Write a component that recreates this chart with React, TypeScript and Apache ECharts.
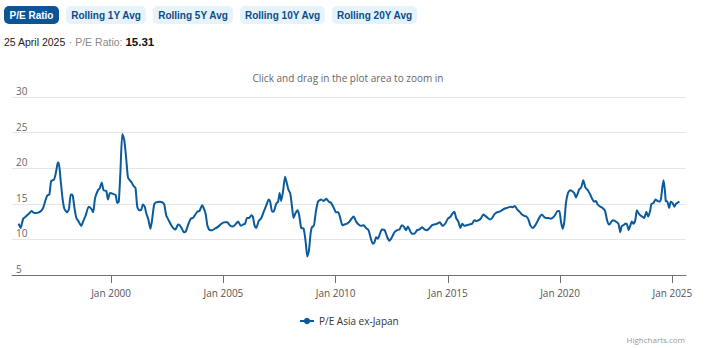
import React, { useEffect, useRef } from "react";
import * as echarts from "echarts";

const seriesName = "P/E Asia ex-Japan";
const chartHint = "Click and drag in the plot area to zoom in";
const buttonLabels = ["P/E Ratio", "Rolling 1Y Avg", "Rolling 5Y Avg", "Rolling 10Y Avg", "Rolling 20Y Avg"];
const latestDate = "25 April 2025";
const latestLabel = "P/E Ratio:";
const latestValue = "15.31";
const xTickYears = [2000, 2005, 2010, 2015, 2020, 2025];
const yMin = 5;
const yMax = 30;
const yStep = 5;

const dates = [
  "1995-11-18", "1995-12-20", "1996-02-01", "1996-03-15", "1996-05-15", "1996-06-15", "1996-08-01", "1996-10-15", "1996-12-15",
  "1997-02-01", "1997-03-01", "1997-04-01", "1997-05-01", "1997-06-15", "1997-07-10", "1997-08-15", "1997-09-01", "1997-10-01",
  "1997-11-01", "1997-12-01", "1998-01-15", "1998-02-15", "1998-03-15", "1998-04-15", "1998-05-15", "1998-06-15", "1998-07-15",
  "1998-09-01", "1998-10-01", "1998-11-15", "1999-01-01", "1999-02-15", "1999-03-15", "1999-04-15", "1999-06-01", "1999-07-01",
  "1999-08-01", "1999-09-01", "1999-10-15", "1999-11-10", "1999-12-15", "2000-02-01", "2000-03-15", "2000-04-10", "2000-05-05",
  "2000-06-01", "2000-07-01", "2000-08-01", "2000-09-01", "2000-10-01", "2000-11-01", "2000-12-01", "2001-01-01", "2001-02-01",
  "2001-03-01", "2001-04-01", "2001-05-01", "2001-06-01", "2001-07-01", "2001-07-25", "2001-09-01", "2001-10-01", "2001-10-25",
  "2001-12-01", "2002-01-01", "2002-03-01", "2002-04-15", "2002-05-15", "2002-06-15", "2002-07-25", "2002-09-05", "2002-10-20",
  "2002-11-15", "2002-12-25", "2003-01-20", "2003-02-20", "2003-04-01", "2003-04-30", "2003-06-05", "2003-07-20", "2003-08-25",
  "2003-09-25", "2003-11-05", "2003-12-10", "2004-01-20", "2004-02-20", "2004-03-20", "2004-04-15", "2004-05-25", "2004-07-01",
  "2004-08-15", "2004-10-10", "2004-11-30", "2005-01-20", "2005-03-05", "2005-04-15", "2005-05-25", "2005-07-05", "2005-08-30",
  "2005-10-10", "2005-11-20", "2005-12-20", "2006-01-20", "2006-02-25", "2006-04-01", "2006-04-25", "2006-05-25", "2006-06-20",
  "2006-07-30", "2006-09-10", "2006-10-20", "2006-12-01", "2007-01-08", "2007-02-01", "2007-03-05", "2007-04-05", "2007-05-10",
  "2007-06-10", "2007-07-05", "2007-07-30", "2007-08-30", "2007-10-01", "2007-10-27", "2007-11-28", "2007-12-24", "2008-01-22",
  "2008-02-17", "2008-03-20", "2008-04-22", "2008-05-18", "2008-06-20", "2008-07-30", "2008-09-01", "2008-09-27", "2008-10-23",
  "2008-11-22", "2008-12-17", "2009-01-08", "2009-02-10", "2009-03-20", "2009-05-10", "2009-06-20", "2009-08-03", "2009-09-12",
  "2009-10-22", "2009-11-28", "2010-01-10", "2010-02-13", "2010-03-17", "2010-04-20", "2010-05-26", "2010-07-05", "2010-08-15",
  "2010-09-24", "2010-10-20", "2010-12-01", "2011-01-10", "2011-02-20", "2011-04-05", "2011-05-10", "2011-06-20", "2011-07-22",
  "2011-08-28", "2011-09-25", "2011-10-22", "2011-11-17", "2011-12-16", "2012-01-22", "2012-03-08", "2012-04-20", "2012-05-26",
  "2012-07-05", "2012-08-15", "2012-09-27", "2012-11-06", "2012-12-13", "2013-01-15", "2013-02-20", "2013-03-22", "2013-04-16",
  "2013-05-26", "2013-07-05", "2013-08-18", "2013-09-27", "2013-11-10", "2013-12-16", "2014-01-30", "2014-03-08", "2014-04-20",
  "2014-05-26", "2014-07-08", "2014-08-22", "2014-10-08", "2014-11-17", "2015-01-01", "2015-02-14", "2015-03-22", "2015-04-16",
  "2015-05-16", "2015-06-20", "2015-07-24", "2015-08-22", "2015-09-27", "2015-11-10", "2015-12-16", "2016-01-30", "2016-03-08",
  "2016-04-05", "2016-05-18", "2016-06-25", "2016-07-30", "2016-09-01", "2016-10-12", "2016-11-17", "2016-12-20", "2017-01-26",
  "2017-03-08", "2017-04-20", "2017-05-30", "2017-07-08", "2017-08-15", "2017-09-16", "2017-10-22", "2017-11-22", "2017-12-24",
  "2018-01-26", "2018-03-10", "2018-04-20", "2018-05-30", "2018-07-05", "2018-08-08", "2018-09-02", "2018-10-12", "2018-11-17",
  "2019-01-01", "2019-02-06", "2019-03-10", "2019-04-12", "2019-05-16", "2019-06-28", "2019-08-03", "2019-09-12", "2019-10-16",
  "2019-11-22", "2019-12-20", "2020-01-15", "2020-02-10", "2020-03-10", "2020-04-05", "2020-05-08", "2020-06-10", "2020-07-12",
  "2020-08-18", "2020-09-16", "2020-10-12", "2020-11-06", "2020-12-10", "2021-01-12", "2021-02-15", "2021-03-28", "2021-05-05",
  "2021-06-12", "2021-07-08", "2021-08-08", "2021-09-02", "2021-10-16", "2021-11-22", "2022-01-01", "2022-02-03", "2022-02-28",
  "2022-03-25", "2022-05-05", "2022-06-10", "2022-07-12", "2022-08-08", "2022-09-06", "2022-10-01", "2022-10-30", "2022-11-25",
  "2022-12-20", "2023-01-20", "2023-02-14", "2023-03-14", "2023-04-08", "2023-05-08", "2023-06-03", "2023-06-28", "2023-07-28",
  "2023-08-30", "2023-10-01", "2023-11-03", "2023-12-03", "2024-01-04", "2024-01-27", "2024-02-28", "2024-04-01", "2024-05-03",
  "2024-06-05", "2024-06-27", "2024-07-20", "2024-08-10", "2024-09-02", "2024-09-16", "2024-10-12", "2024-11-10", "2024-12-05",
  "2025-01-05", "2025-02-01", "2025-03-01", "2025-04-25",
];

const peValues = [
  12.2, 11.6, 12.9, 13.2, 13.7, 14.0, 13.7, 13.8, 14.3,
  15.6, 16.2, 16.3, 18.2, 18.4, 19.1, 20.7, 20.8, 18.4,
  15.8, 14.3, 13.8, 14.3, 16.3, 16.2, 14.4, 13.0, 12.6,
  11.9, 12.5, 13.4, 14.6, 14.3, 13.8, 15.8, 16.9, 17.2,
  18.0, 16.9, 16.8, 15.6, 16.5, 16.4, 16.2, 15.1, 15.3,
  19.6, 24.8, 24.0, 21.5, 18.7, 18.3, 18.0, 17.5, 17.2,
  14.6, 14.1, 14.1, 14.9, 14.6, 13.7, 12.7, 11.5, 12.5,
  14.9, 15.2, 15.3, 15.2, 14.9, 13.4, 12.7, 12.0, 11.5,
  11.4, 12.1, 12.0, 11.6, 11.0, 11.1, 12.0, 12.9, 13.0,
  13.4, 13.9, 14.0, 14.8, 14.3, 13.5, 12.0, 11.3, 11.3,
  11.5, 11.8, 12.2, 12.4, 12.4, 12.0, 11.8, 12.0, 12.5,
  11.9, 12.1, 12.2, 13.0, 13.0, 13.4, 13.2, 11.9, 11.6,
  12.6, 13.0, 13.9, 14.8, 15.6, 15.3, 13.9, 14.0, 15.0,
  15.3, 16.5, 15.4, 16.8, 18.8, 18.0, 16.9, 16.5, 14.6,
  13.0, 13.7, 14.1, 13.4, 11.6, 11.5, 9.6, 7.6, 8.4,
  11.0, 11.8, 11.8, 13.7, 15.3, 15.6, 15.4, 15.7, 15.3,
  15.1, 14.5, 13.8, 13.8, 13.0, 12.0, 12.1, 12.2, 12.5,
  13.0, 13.2, 12.5, 12.1, 11.9, 12.0, 11.6, 11.3, 10.3,
  9.4, 9.6, 10.3, 10.1, 10.6, 11.4, 11.3, 10.3, 9.8,
  10.3, 11.0, 11.3, 11.4, 12.0, 11.8, 11.3, 11.8, 11.4,
  10.8, 10.8, 11.3, 11.4, 11.7, 11.4, 11.3, 11.6, 12.0,
  12.1, 12.2, 12.4, 11.9, 12.2, 12.9, 13.2, 13.7, 13.9,
  13.0, 12.5, 11.6, 12.2, 11.9, 12.0, 12.1, 12.2, 12.7,
  12.6, 12.7, 13.0, 13.5, 13.3, 13.0, 12.8, 13.0, 13.5,
  13.8, 13.9, 14.1, 14.3, 14.4, 14.5, 14.6, 14.5, 14.7,
  14.3, 13.9, 13.5, 13.3, 13.2, 12.7, 12.0, 11.6, 11.9,
  12.6, 13.2, 13.5, 13.2, 13.0, 13.0, 12.9, 13.1, 13.5,
  14.0, 14.0, 12.5, 11.5, 12.5, 15.1, 16.5, 16.9, 16.8,
  16.5, 15.9, 16.4, 17.0, 17.3, 18.3, 17.3, 16.9, 16.3,
  15.6, 15.3, 15.4, 14.9, 14.6, 14.4, 14.0, 12.7, 12.1,
  12.2, 12.7, 12.6, 12.4, 12.2, 11.0, 11.9, 12.0, 12.2,
  12.2, 11.3, 11.9, 12.5, 12.2, 12.7, 14.1, 13.7, 13.4,
  13.2, 13.0, 13.9, 13.2, 14.0, 15.0, 15.1, 15.6, 15.4,
  15.3, 15.6, 17.2, 18.3, 16.8, 15.4, 15.3, 14.4, 15.3,
  15.1, 14.6, 15.0, 15.31,
];

const LINE_COLOR = "#0b5a9c";
const CHART_FONT = "'Open Sans', 'Noto Sans', sans-serif";
const HEADER_FONT = "'Liberation Sans', Arial, sans-serif";

// button boxes: [x, width]
const buttonBoxes = [
  [4, 55],
  [66, 80],
  [153, 80],
  [240, 85],
  [332, 85],
];

function toTime(s: string): number {
  const [y, m, d] = s.split("-").map(Number);
  return new Date(y, m - 1, d).getTime();
}

export default function App() {
  const ref = useRef<HTMLDivElement | null>(null);

  useEffect(() => {
    if (!ref.current) return;
    const chart = echarts.init(ref.current, undefined, { renderer: "svg" });

    const tickTimes = xTickYears.map((y) => new Date(y, 0, 1).getTime());
    const times = dates.map(toTime);
    const tMin = times[0];
    const tMax = times[times.length - 1];
    const pad = (tMax - tMin) * 0.01;

    const buttonGraphics: any[] = [];
    buttonLabels.forEach((label, i) => {
      const [bx, bw] = buttonBoxes[i];
      const active = i === 0;
      buttonGraphics.push({
        type: "rect",
        shape: { x: bx, y: 6, width: bw, height: 18, r: 5 },
        style: { fill: active ? "#0b5596" : "#e7f3fb" },
        silent: true,
      });
      buttonGraphics.push({
        type: "text",
        x: bx + bw / 2,
        y: 15,
        style: {
          text: label,
          align: "center",
          verticalAlign: "middle",
          fill: active ? "#ffffff" : "#0b4c87",
          font: `bold 10px ${HEADER_FONT}`,
        },
        silent: true,
      });
    });

    const option: any = {
      animation: false,
      backgroundColor: "#ffffff",
      grid: { left: 12, right: 23, top: 97, bottom: 73 },
      xAxis: {
        type: "value",
        min: tMin - pad,
        max: tMax + pad,
        axisLine: { show: true, lineStyle: { color: "#707070", width: 1 } },
        axisTick: { show: true, length: 8, customValues: tickTimes, lineStyle: { color: "#707070" } },
        axisLabel: {
          customValues: tickTimes,
          formatter: (v: number) => "Jan " + new Date(v).getFullYear(),
          color: "#555",
          fontSize: 10,
          fontFamily: CHART_FONT,
          margin: 13,
          showMinLabel: true,
          showMaxLabel: true,
        },
        splitLine: { show: false },
      },
      yAxis: {
        type: "value",
        min: yMin,
        max: yMax,
        interval: yStep,
        axisLine: { show: false },
        axisTick: { show: false },
        splitLine: { show: true, lineStyle: { color: "#e6e6e6", width: 1 } },
        axisLabel: {
          inside: true,
          margin: 4,
          verticalAlign: "bottom",
          color: "#666",
          fontSize: 10,
          fontFamily: CHART_FONT,
          padding: [0, 0, 1, 0],
        },
      },
      legend: {
        show: true,
        data: [seriesName],
        left: 299,
        top: 316,
        itemWidth: 14,
        itemHeight: 8,
        padding: 0,
        selectedMode: false,
        textStyle: { color: "#333", fontSize: 10, fontFamily: CHART_FONT },
      },
      graphic: [
        ...buttonGraphics,
        {
          type: "text",
          x: 4,
          y: 42,
          style: {
            text: `{a|${latestDate}} {b|\u00b7} {b|${latestLabel}} {c|${latestValue}}`,
            verticalAlign: "middle",
            rich: {
              a: { fill: "#222", font: `10.5px ${HEADER_FONT}` },
              b: { fill: "#8a8a8a", font: `10.5px ${HEADER_FONT}` },
              c: { fill: "#111", font: `bold 11.5px ${HEADER_FONT}` },
            },
            font: `10.5px ${HEADER_FONT}`,
          },
          silent: true,
        },
        {
          type: "text",
          x: 348,
          y: 78,
          style: {
            text: chartHint,
            align: "center",
            verticalAlign: "middle",
            fill: "#666",
            font: `10px ${CHART_FONT}`,
          },
          silent: true,
        },
        {
          type: "text",
          x: 685,
          y: 339,
          style: {
            text: "Highcharts.com",
            align: "right",
            verticalAlign: "middle",
            fill: "#999",
            font: `8px ${CHART_FONT}`,
          },
          silent: true,
        },
      ],
      series: [
        {
          name: seriesName,
          type: "line",
          data: times.map((t, i) => [t, peValues[i]]),
          showSymbol: false,
          symbol: "circle",
          symbolSize: 7,
          smooth: 0.2,
          color: LINE_COLOR,
          lineStyle: { color: LINE_COLOR, width: 2 },
          itemStyle: { color: LINE_COLOR },
        },
      ],
    };

    chart.setOption(option);
    return () => chart.dispose();
  }, []);

  return (
    <div
      ref={ref}
      style={{ position: "absolute", left: 0, top: 0, width: 709, height: 348 }}
    />
  );
}
